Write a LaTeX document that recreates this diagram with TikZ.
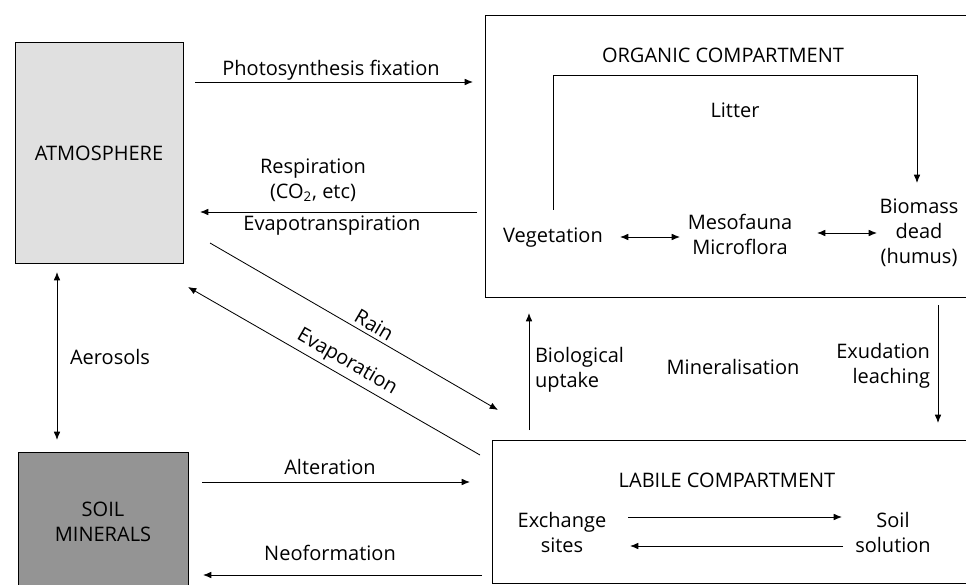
\documentclass[tikz,border=0pt]{standalone}
\usepackage{fontspec}
\setmainfont{Open Sans}
\usetikzlibrary{calc,arrows.meta}
\newcommand\pxlen{0.6pt}

\begin{document}
\begin{tikzpicture}[x=0.6pt,y=-0.6pt,inner sep=0pt,outer sep=0pt,
    every node/.style={font=\fontsize{12}{15}\selectfont, align=center},
    flow/.style={-{Latex[length=5pt,width=4pt]}, line width=0.5pt},
    flowtwo/.style={{Latex[length=5pt,width=4pt]}-{Latex[length=5pt,width=4pt]}, line width=0.5pt},
    comp/.style={draw, line width=0.6pt, anchor=north west}]
    \useasboundingbox (0,0) rectangle (966,585);
    \clip (0,0) rectangle (966,585);

    % reservoirs
    \node[comp, fill=black!12, minimum width=168*\pxlen, minimum height=220*\pxlen]
      (atm_box) at (15,43) {ATMOSPHERE};
    \node[comp, fill=black!42, minimum width=170*\pxlen, minimum height=140*\pxlen]
      (soil_box) at (18,452) {SOIL\\MINERALS};

    % organic compartment
    \node[comp, minimum width=495*\pxlen, minimum height=281*\pxlen] (org_box) at (485,16) {};
    \node (org_title) at (723,55) {ORGANIC COMPARTMENT};
    \node (litter) at (735,110) {Litter};
    \node (veg) at (553,238) {Vegetation};
    \node (meso) at (740,234) {Mesofauna\\Microflora};
    \node (biomass) at (919,233) {Biomass\\dead\\(humus)};

    \coordinate (lit_s) at (553,210);
    \coordinate (lit_e) at (917,183);
    \draw[flow] (lit_s) -- ++(0,-135) -| (lit_e);
    \coordinate (vm_a) at (620,237);
    \coordinate (vm_b) at (680,237);
    \draw[flowtwo] (vm_a) -- (vm_b);
    \coordinate (mb_a) at (817,233);
    \coordinate (mb_b) at (877,233);
    \draw[flowtwo] (mb_a) -- (mb_b);

    % labile compartment
    \node[comp, minimum width=490*\pxlen, minimum height=143*\pxlen] (lab_box) at (492,440) {};
    \node (lab_title) at (727,480) {LABILE COMPARTMENT};
    \node (exch) at (562,532) {Exchange\\sites};
    \node (soilsol) at (893,532) {Soil\\solution};

    \coordinate (es_a) at (628,517);
    \coordinate (es_b) at (842,517);
    \draw[flow] (es_a) -- (es_b);
    \coordinate (se_a) at (843,546);
    \coordinate (se_b) at (630,546);
    \draw[flow] (se_a) -- (se_b);

    % between compartments
    \node[anchor=west, align=left] (bio_up) at (535,370) {Biological\\uptake};
    \node (mineral) at (733,367) {Mineralisation};
    \node[anchor=east, align=right] (exud) at (930,366) {Exudation\\leaching};
    \coordinate (up_s) at (529,430);
    \coordinate (up_e) at (529,313);
    \draw[flow] (up_s) -- (up_e);
    \coordinate (ex_s) at (938,305);
    \coordinate (ex_e) at (938,423);
    \draw[flow] (ex_s) -- (ex_e);

    % atmosphere fluxes
    \node (photo_lbl) at (331,70) {Photosynthesis fixation};
    \coordinate (photo_s) at (195,82);
    \coordinate (photo_e) at (473,82);
    \draw[flow] (photo_s) -- (photo_e);

    \node (resp_lbl) at (313,180) {Respiration\\(CO\textsubscript{2}, etc)};
    \node (evapotr_lbl) at (332,226) {Evapotranspiration};
    \coordinate (resp_s) at (477,212);
    \coordinate (resp_e) at (200,212);
    \draw[flow] (resp_s) -- (resp_e);

    \coordinate (rain_s) at (210,243);
    \coordinate (rain_e) at (498,410);
    \draw[flow] (rain_s) -- node[sloped, above=2.5pt, pos=0.55] (rain_lbl) {Rain} (rain_e);
    \coordinate (evap_s) at (480,455);
    \coordinate (evap_e) at (188,287);
    \draw[flow] (evap_s) -- node[sloped, above=2.5pt, pos=0.48] (evap_lbl) {Evaporation} (evap_e);

    % aerosols
    \node (aero_lbl) at (110,357) {Aerosols};
    \coordinate (aero_a) at (57,272);
    \coordinate (aero_b) at (57,440);
    \draw[flowtwo] (aero_a) -- (aero_b);

    % soil minerals fluxes
    \node (alt_lbl) at (330,467) {Alteration};
    \coordinate (alt_s) at (202,482);
    \coordinate (alt_e) at (470,482);
    \draw[flow] (alt_s) -- (alt_e);
    \node (neo_lbl) at (330,553) {Neoformation};
    \coordinate (neo_s) at (482,575);
    \coordinate (neo_e) at (203,575);
    \draw[flow] (neo_s) -- (neo_e);
\end{tikzpicture}
\end{document}
